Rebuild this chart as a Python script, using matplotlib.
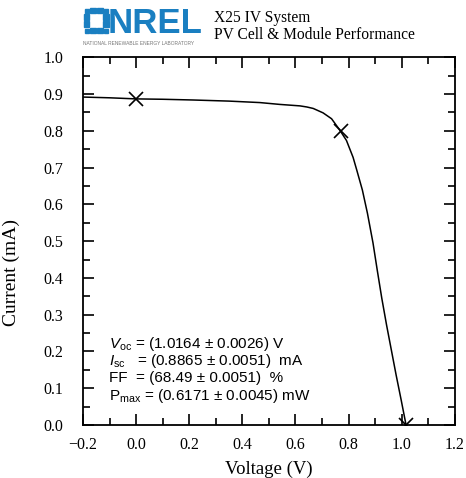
import matplotlib
matplotlib.use('Agg')
import matplotlib.pyplot as plt
from matplotlib.patches import Rectangle
from matplotlib.ticker import MultipleLocator

# IV curve
voltage = [-0.2, -0.1, 0.0, 0.1, 0.215, 0.35, 0.466, 0.541, 0.617, 0.643, 0.667, 0.704,
           0.736, 0.767, 0.792, 0.817, 0.831, 0.852, 0.871, 0.892, 0.908, 0.925, 0.943,
           0.961, 0.979, 0.998, 1.0164]
current = [0.892, 0.890, 0.887, 0.886, 0.884, 0.881, 0.877, 0.872, 0.868, 0.865, 0.861, 0.849,
           0.833, 0.802, 0.774, 0.728, 0.693, 0.639, 0.576, 0.495, 0.421, 0.345, 0.272,
           0.204, 0.136, 0.068, 0.0]

# marked points: Isc, max power point, Voc
mark_v = [0.0, 0.77, 1.0164]
mark_i = [0.8865, 0.801, 0.0]

results = [
    r"$V_{\rm oc}$ = (1.0164 ± 0.0026) V",
    r"$I_{\rm sc}$   = (0.8865 ± 0.0051)  mA",
    r"FF  = (68.49 ± 0.0051)  %",
    r"P$_{\rm max}$ = (0.6171 ± 0.0045) mW",
]

plt.rcParams['font.family'] = ['Liberation Serif', 'DejaVu Serif']
plt.rcParams['mathtext.fontset'] = 'custom'
plt.rcParams['mathtext.rm'] = 'Liberation Sans'
plt.rcParams['mathtext.it'] = 'Liberation Sans:italic'

fig = plt.figure(figsize=(4.66, 4.78), dpi=100)
ax = fig.add_axes([0.178, 0.111, 0.798, 0.769])

ax.plot(voltage, current, color='black', lw=1.1)
ax.plot(mark_v, mark_i, 'x', color='black', ms=10, mew=1.2)

ax.set_xlim(-0.2, 1.2)
ax.set_ylim(0.0, 1.0)
ax.xaxis.set_major_locator(MultipleLocator(0.2))
ax.xaxis.set_minor_locator(MultipleLocator(0.1))
ax.yaxis.set_major_locator(MultipleLocator(0.1))
ax.yaxis.set_minor_locator(MultipleLocator(0.05))
ax.xaxis.set_major_formatter(lambda v, p: f"{v:.1f}".replace('-', '\u2212'))
ax.yaxis.set_major_formatter(lambda v, p: f"{v:.1f}")
ax.tick_params(which='both', direction='in', top=True, right=True, labelsize=11.5, width=1.2)
ax.tick_params(which='major', length=8)
ax.tick_params(axis='x', which='major', pad=9)
ax.tick_params(axis='y', which='major', pad=14)
ax.tick_params(which='minor', length=5)
for s in ax.spines.values():
    s.set_linewidth(1.3)

ax.set_xlabel('Voltage (V)', fontsize=13.5, labelpad=5)
ax.set_ylabel('Current (mA)', fontsize=14)
ax.yaxis.set_label_coords(-0.17, 0.416)

ys = [0.220, 0.173, 0.127, 0.080]
for txt, yy in zip(results, ys):
    ax.text(0.07, yy, txt, transform=ax.transAxes, fontsize=11,
            family='Liberation Sans', va='center')

# header: NREL logo and title
blue = '#1a7fc1'
sq = 0.012
for ix, iy in [(0, 1), (0, 2), (3, 1), (3, 2), (1, 0), (2, 0), (1, 3), (2, 3),
               (0, 0), (3, 0), (0, 3), (3, 3)]:
    size = sq * 0.7 if (ix in (0, 3) and iy in (0, 3)) else sq
    x0 = 0.180 + ix * 0.0140 + (sq - size) / 2
    y0 = 0.930 + iy * 0.0140 + (sq - size) / 2
    fig.patches.append(Rectangle((x0, y0), size, size * 466 / 478,
                                 transform=fig.transFigure, color=blue))
fig.text(0.232, 0.930, 'NREL', fontsize=25, fontweight='bold', color=blue,
         family='Liberation Sans', va='baseline')
fig.text(0.179, 0.908, 'NATIONAL RENEWABLE ENERGY LABORATORY', fontsize=3.5,
         color='#777777', family='Liberation Sans', va='center')
fig.text(0.460, 0.962, 'X25 IV System', fontsize=11.2, va='center')
fig.text(0.460, 0.926, 'PV Cell & Module Performance', fontsize=11.2, va='center')

fig.savefig('out.png', dpi=100)
